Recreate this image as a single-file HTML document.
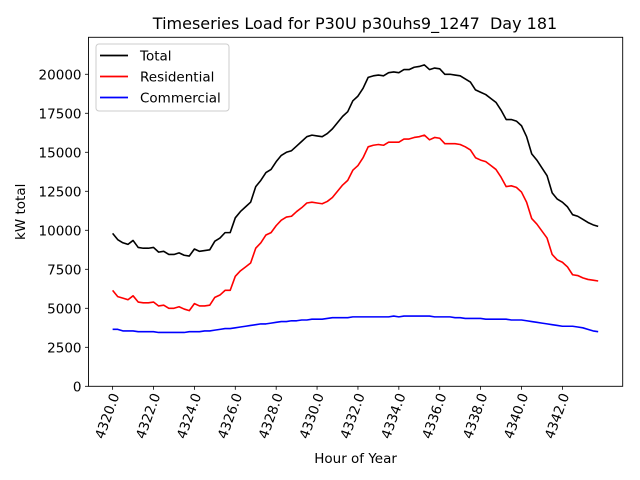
<!DOCTYPE html>
<html><head><meta charset="utf-8"><style>
body{margin:0;background:#fff}
svg{display:block;font-family:"DejaVu Sans","Liberation Sans",sans-serif}
</style></head><body>
<svg id="chart" width="640" height="480" xmlns="http://www.w3.org/2000/svg"></svg>
<script>
const xTicks=[4320,4322,4324,4326,4328,4330,4332,4334,4336,4338,4340,4342];
const yTicks=[0,2500,5000,7500,10000,12500,15000,17500,20000];
const startHour=4320;
const stepHours=0.25;
const totalVals=[9800,9400,9200,9100,9350,8900,8850,8850,8900,8600,8650,8450,8450,8550,8400,8350,8800,8650,8700,8750,9300,9500,9850,9850,10800,11200,11500,11800,12800,13200,13700,13900,14400,14800,15000,15100,15400,15700,16000,16100,16050,16000,16200,16500,16900,17300,17600,18300,18600,19100,19800,19900,19950,19900,20100,20150,20100,20300,20300,20450,20500,20600,20300,20400,20350,20000,20000,19950,19900,19700,19500,19000,18850,18700,18450,18200,17700,17100,17100,17000,16700,16000,14900,14500,14000,13500,12400,12000,11800,11500,11000,10900,10700,10500,10350,10250];
const resVals=[6150,5750,5650,5550,5800,5400,5350,5350,5400,5150,5200,5000,5000,5100,4950,4850,5300,5150,5150,5200,5700,5850,6150,6150,7050,7400,7650,7900,8850,9200,9700,9850,10300,10650,10850,10900,11200,11450,11750,11800,11750,11700,11850,12100,12500,12900,13200,13850,14150,14650,15350,15450,15500,15450,15650,15650,15650,15850,15850,15950,16000,16100,15800,15950,15900,15550,15550,15550,15500,15350,15150,14650,14500,14400,14150,13900,13400,12800,12850,12750,12450,11800,10750,10400,9950,9500,8450,8100,7950,7650,7150,7100,6950,6850,6800,6750];
const comVals=[3650,3650,3550,3550,3550,3500,3500,3500,3500,3450,3450,3450,3450,3450,3450,3500,3500,3500,3550,3550,3600,3650,3700,3700,3750,3800,3850,3900,3950,4000,4000,4050,4100,4150,4150,4200,4200,4250,4250,4300,4300,4300,4350,4400,4400,4400,4400,4450,4450,4450,4450,4450,4450,4450,4450,4500,4450,4500,4500,4500,4500,4500,4500,4450,4450,4450,4450,4400,4400,4350,4350,4350,4350,4300,4300,4300,4300,4300,4250,4250,4250,4200,4150,4100,4050,4000,3950,3900,3850,3850,3850,3800,3750,3650,3550,3500];

const L=88.5,R=622.7,T=37.3,B=386.3;
const xMin=4318.82,xMax=4344.95,yMin=0,yMax=22370;
const sx=v=>L+(v-xMin)/(xMax-xMin)*(R-L);
const sy=v=>B-(v-yMin)/(yMax-yMin)*(B-T);
const NS="http://www.w3.org/2000/svg";
const svg=document.getElementById('chart');
function mk(tag,attrs,parent){const e=document.createElementNS(NS,tag);for(const k in attrs)e.setAttribute(k,attrs[k]);(parent||svg).appendChild(e);return e;}

const title=mk('text',{x:355,y:29,'text-anchor':'middle','font-size':16,fill:'#000',style:'white-space:pre'});


title.textContent='Timeseries Load for P30U p30uhs9_1247  Day 181';

xTicks.forEach(t=>{
  const x=sx(t);
  const tk=mk('line',{x1:x,x2:x,y1:B,y2:B+3.5,stroke:'#000','stroke-width':0.8});
  
  
  const lb=mk('text',{transform:`translate(${x+7},${B+9}) rotate(-70)`,'text-anchor':'end','font-size':13.5,fill:'#000'});
  
  
  lb.textContent=t.toFixed(1);
});
yTicks.forEach(t=>{
  const y=sy(t);
  const tk=mk('line',{x1:L-3.5,x2:L,y1:y,y2:y,stroke:'#000','stroke-width':0.8});
  
  
  const lb=mk('text',{x:L-7,y:y+5,'text-anchor':'end','font-size':13.5,fill:'#000'});
  
  
  lb.textContent=String(t);
});

function series(vals,color,name){
  const pts=vals.map((v,i)=>sx(startHour+i*stepHours).toFixed(2)+','+sy(v).toFixed(2)).join(' ');
  const p=mk('polyline',{points:pts,fill:'none',stroke:color,'stroke-width':1.6,'stroke-linejoin':'round'});
  
  
}
series(totalVals,'#000','total-line');
series(resVals,'#ff0000','residential-line');
series(comVals,'#0000ff','commercial-line');

const frame=mk('rect',{x:L,y:T,width:R-L,height:B-T,fill:'none',stroke:'#000','stroke-width':0.9});



const xl=mk('text',{x:(L+R)/2,y:463,'text-anchor':'middle','font-size':13.5,fill:'#000'});


xl.textContent='Hour of Year';
const yl=mk('text',{transform:`translate(25,${(T+B)/2}) rotate(-90)`,'text-anchor':'middle','font-size':13.5,fill:'#000'});


yl.textContent='kW total';

const lg=mk('g',{});


mk('rect',{x:96,y:44,width:133,height:67,rx:3,fill:'#fff','fill-opacity':0.8,stroke:'#ccc','stroke-width':1},lg);
[['Total','#000'],['Residential','#ff0000'],['Commercial','#0000ff']].forEach((e,i)=>{
  const y=55.5+i*21;
  const g=mk('g',{},lg);
  
  
  mk('line',{x1:100,x2:128,y1:y,y2:y,stroke:e[1],'stroke-width':1.8},g);
  const t=mk('text',{x:140,y:y+5,'font-size':13.5,fill:'#000'},g);
  t.textContent=e[0];
});
</script>
</body></html>
